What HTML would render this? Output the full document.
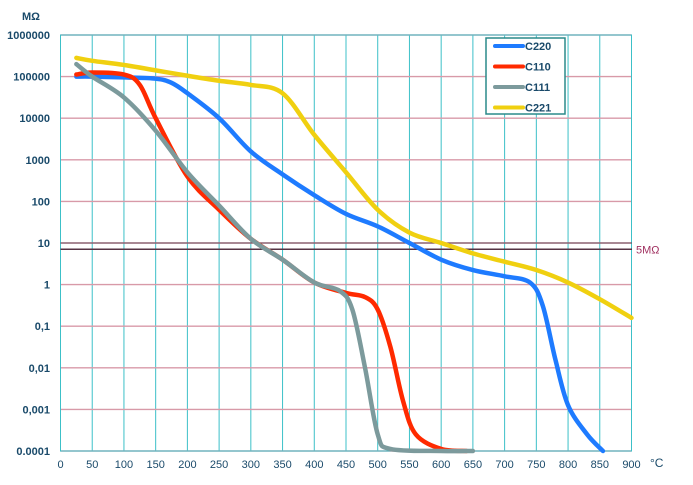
<!DOCTYPE html>
<html><head><meta charset="utf-8"><style>
body{margin:0;background:#fff;width:693px;height:480px;overflow:hidden;font-family:"Liberation Sans",sans-serif}
</style></head><body>
<svg id="chart" width="693" height="480" xmlns="http://www.w3.org/2000/svg"></svg>
<script>
const xTicks=[0,50,100,150,200,250,300,350,400,450,500,550,600,650,700,750,800,850,900];
const yTickExp=[6,5,4,3,2,1,0,-1,-2,-3,-4];
const yTickLabels=["1000000","100000","10000","1000","100","10","1","0,1","0,01","0,001","0.0001"];
const seriesNames=["C220","C110","C111","C221"];
const seriesColors=["#1e7bff","#ff2a00","#7c9a9c","#f0d010"];
const c220T=[25,50,100,150,175,200,250,300,350,400,450,500,550,600,650,700,740,760,780,800,830,855];
const c220V=[5,5,4.98,4.95,4.85,4.6,4.0,3.2,2.65,2.15,1.7,1.4,1.0,0.6,0.35,0.2,0.05,-0.5,-1.8,-2.9,-3.6,-4];
const c110T=[25,50,100,125,150,200,250,300,350,400,450,480,500,520,540,560,600,640];
const c110V=[5.05,5.1,5.05,4.8,4.0,2.6,1.8,1.1,0.6,0.05,-0.2,-0.3,-0.6,-1.5,-2.8,-3.6,-3.95,-4];
const c111T=[25,50,100,150,200,250,300,350,400,440,460,480,500,520,600,650];
const c111V=[5.3,5,4.5,3.7,2.7,1.9,1.1,0.6,0.05,-0.15,-0.6,-2.0,-3.6,-3.95,-4,-4];
const c221T=[25,50,100,150,200,250,300,350,400,450,500,550,600,650,700,750,800,850,900];
const c221V=[5.45,5.38,5.28,5.15,5.02,4.9,4.8,4.6,3.6,2.7,1.8,1.25,1.0,0.75,0.55,0.35,0.05,-0.35,-0.8];
const limitExp=Math.log10(5)+0.15;

const X0=60.5,X1=631.5,Y0=35,Y1=451;
const xs=t=>X0+(t/900)*(X1-X0);
const ys=e=>Y1-(e+4)/10*(Y1-Y0);
const svg=document.getElementById('chart');
const NS="http://www.w3.org/2000/svg";
function mk(tag,attrs,parent){const el=document.createElementNS(NS,tag);for(const k in attrs)el.setAttribute(k,attrs[k]);(parent||svg).appendChild(el);return el;}

const grid=mk('g',{});


xTicks.forEach(t=>{const l=mk('line',{x1:xs(t),x2:xs(t),y1:Y0,y2:Y1,stroke:'#3cc0c8','stroke-width':1},grid);

});
yTickExp.forEach(e=>{const l=mk('line',{x1:X0,x2:X1,y1:ys(e),y2:ys(e),stroke:'#d89aa8','stroke-width':1.4},grid);

});
const ax=mk('rect',{x:X0,y:Y0,width:X1-X0,height:Y1-Y0,fill:'none',stroke:'#3cc0c8','stroke-width':1});



const lim=mk('line',{x1:X0,x2:632,y1:ys(limitExp),y2:ys(limitExp),stroke:'#553344','stroke-width':1.5});


const lim2=mk('line',{x1:X0,x2:632,y1:ys(1),y2:ys(1),stroke:'#664455','stroke-width':1});


const limT=mk('text',{x:636,y:ys(limitExp)+4,'font-size':11,fill:'#a03060'});limT.textContent='5MΩ';



const allT=[c220T,c110T,c111T,c221T],allV=[c220V,c110V,c111V,c221V];
function smooth(pts){let d=`M${pts[0][0]},${pts[0][1]}`;for(let i=0;i<pts.length-1;i++){const p0=pts[Math.max(0,i-1)],p1=pts[i],p2=pts[i+1],p3=pts[Math.min(pts.length-1,i+2)];
const c1=[p1[0]+(p2[0]-p0[0])/6,p1[1]+(p2[1]-p0[1])/6],c2=[p2[0]-(p3[0]-p1[0])/6,p2[1]-(p3[1]-p1[1])/6];d+=`C${c1[0]},${c1[1]} ${c2[0]},${c2[1]} ${p2[0]},${p2[1]}`;}return d;}
[3,0,1,2].forEach(i=>{const pts=allT[i].map((t,j)=>[xs(t),ys(allV[i][j])]);
const p=mk('path',{d:smooth(pts),fill:'none',stroke:seriesColors[i],'stroke-width':4.5,'stroke-linecap':'round','stroke-linejoin':'round'});

});

xTicks.forEach(t=>{const tx=mk('text',{x:xs(t),y:468,'font-size':11,fill:'#1a4a6a','text-anchor':'middle'});tx.textContent=t;

});
const xu=mk('text',{x:650,y:467,'font-size':12,fill:'#1a4a6a'});xu.textContent='°C';


yTickExp.forEach((e,i)=>{const tx=mk('text',{x:50,y:ys(e)+4,'font-size':11,'font-weight':'bold',fill:'#1a4a6a','text-anchor':'end'});tx.textContent=yTickLabels[i];

});
const yu=mk('text',{x:22,y:20,'font-size':11,'font-weight':'bold',fill:'#1a4a6a'});yu.textContent='MΩ';



const lg=mk('g',{});


mk('rect',{x:486,y:38,width:79,height:76,fill:'#fff',stroke:'#2a8a8a','stroke-width':1.5},lg);
seriesNames.forEach((n,i)=>{const y=46+i*20.5;
const l=mk('line',{x1:495,x2:523,y1:y,y2:y,stroke:seriesColors[i],'stroke-width':4,'stroke-linecap':'round'},lg);


const t=mk('text',{x:525,y:y+4,'font-size':11,'font-weight':'bold',fill:'#1a4a6a'},lg);t.textContent=n;

});
</script>
</body></html>
